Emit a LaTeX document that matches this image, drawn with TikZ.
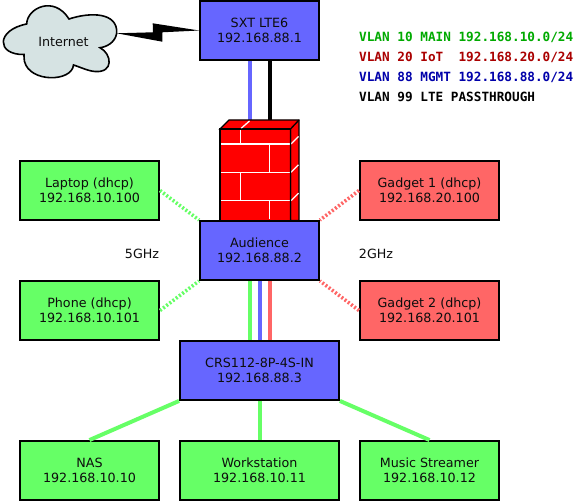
\documentclass[tikz,border=0pt]{standalone}
\usepackage{fontspec}
\setmainfont{DejaVu Sans}
\newfontfamily\vlanfont{DejaVu Sans Mono}[BoldFont={DejaVu Sans Mono Bold}]
\definecolor{boxblue}{HTML}{6666FF}
\definecolor{boxgreen}{HTML}{66FF66}
\definecolor{boxred}{HTML}{FF6666}
\definecolor{cloudfill}{HTML}{D6E3E3}
\definecolor{vgreen}{HTML}{00AA00}
\definecolor{vred}{HTML}{AA0000}
\definecolor{vblue}{HTML}{0000AA}
\definecolor{wallred}{HTML}{FF0000}
\tikzset{
  netbox/.style={draw=black,line width=1.9pt,inner sep=0pt,align=center,
    font=\fontsize{12.7}{15.5}\selectfont,text=black!95},
  bluebox/.style={netbox,fill=boxblue},
  greenbox/.style={netbox,fill=boxgreen,minimum width=139pt,minimum height=59pt},
  redbox/.style={netbox,fill=boxred,minimum width=139pt,minimum height=59pt},
  wired/.style={line width=4pt},
  wireless/.style={line width=3.6pt,dash pattern=on 2pt off 2pt},
  vlan/.style={anchor=west,inner sep=0pt,font=\fontsize{12.7}{15}\selectfont\vlanfont\bfseries},
  plain/.style={inner sep=0pt,font=\fontsize{12.7}{15}\selectfont,text=black!95},
  brick/.style={draw=white,line width=1.3pt},
  wall/.style={draw=black,line width=1.3pt,fill=wallred,line join=miter}
}
\begin{document}
\begin{tikzpicture}[x=1pt,y=-1pt]
\useasboundingbox (0,0) rectangle (575,502);
\fill[white] (0,0) rectangle (575,502);

% nodes
\node[bluebox,minimum width=119pt,minimum height=59pt] (sxt) at (259.5,30.5) {SXT LTE6\\192.168.88.1};
\node[bluebox,minimum width=119pt,minimum height=59pt] (aud) at (259.5,250.5) {Audience\\192.168.88.2};
\node[bluebox,minimum width=159pt,minimum height=59pt] (crs) at (259.5,370.5) {CRS112-8P-4S-IN\\192.168.88.3};
\node[greenbox] (laptop) at (89.5,190.5) {Laptop (dhcp)\\192.168.10.100};
\node[greenbox] (phone) at (89.5,310.5) {Phone (dhcp)\\192.168.10.101};
\node[redbox] (g1) at (429.5,190.5) {Gadget 1 (dhcp)\\192.168.20.100};
\node[redbox] (g2) at (429.5,310.5) {Gadget 2 (dhcp)\\192.168.20.101};
\node[greenbox] (nas) at (89.5,470.5) {NAS\\192.168.10.10};
\node[greenbox,minimum width=159pt] (ws) at (259.5,470.5) {Workstation\\192.168.10.11};
\node[greenbox] (music) at (429.5,470.5) {Music Streamer\\192.168.10.12};

% wired connectors
\coordinate (fwtop) at (259.5,120);
\draw[wired,boxblue] ([xshift=-10pt]sxt.south) -- ([xshift=-10pt]fwtop);
\draw[wired,black] ([xshift=10pt]sxt.south) -- ([xshift=10pt]fwtop);
\draw[wired,boxgreen] ([xshift=-10pt]aud.south) -- ([xshift=-10pt]crs.north);
\draw[wired,boxblue] (aud.south) -- (crs.north);
\draw[wired,boxred] ([xshift=10pt]aud.south) -- ([xshift=10pt]crs.north);
\draw[wired,boxgreen] (crs.south west) -- (nas.north);
\draw[wired,boxgreen] (crs.south) -- (ws.north);
\draw[wired,boxgreen] (crs.south east) -- (music.north);

% wireless connectors
\draw[wireless,boxgreen] (laptop.east) -- (aud.north west);
\draw[wireless,boxgreen] (phone.east) -- (aud.south west);
\draw[wireless,boxred] (g1.west) -- (aud.north east);
\draw[wireless,boxred] (g2.west) -- (aud.south east);

% firewall
\draw[wall] (220,129) -- (229,120) -- (299,120) -- (299,220.5) -- (290.5,220.5) -- (290.5,129) -- cycle;
\draw[wall] (220,129) rectangle (290.5,220.5);
\draw[brick] (221,144) -- (290,144) (221,172.3) -- (290,172.3) (221,200.7) -- (290,200.7);
\draw[brick] (240.7,130) -- (240.7,144) (269.3,144) -- (269.3,172.3) (240.7,172.3) -- (240.7,200.7) (269.3,200.7) -- (269.3,219.5);
\draw[brick] (241,128.5) -- (249.5,121);
\draw[brick] (291,144) -- (298.5,136.5) (291,172.3) -- (298.5,164.8) (291,200.7) -- (298.5,193.2);
\draw[black,line width=1.3pt] (220,129) -- (290.5,129) -- (290.5,220.5) (290.5,129) -- (299,120);
\node[bluebox,minimum width=119pt,minimum height=59pt] at (aud) {Audience\\192.168.88.2};

% cloud
\draw[black,line width=1.6pt,fill=cloudfill] (26.7,24)
  .. controls (27,8) and (54,-5) .. (69,19)
  .. controls (90,12) and (118,12) .. (116.7,33.3)
  .. controls (115,43) and (106,47) .. (100,47.7)
  .. controls (112,54) and (114,73) .. (95,71.5)
  .. controls (88,71) and (80,67) .. (73.5,65)
  .. controls (72,82) and (30,83) .. (24.5,61.5)
  .. controls (24,58) and (24,56) .. (24,54.5)
  .. controls (-4,55) and (-4,30) .. (26.7,24) -- cycle;
\node[inner sep=0pt,font=\fontsize{12.7}{15}\selectfont,text=black!95] (inet) at (63.5,41.5) {Internet};
\coordinate (cloudE) at (116.7,33.3);

% lightning bolt
\fill[black] (cloudE) -- (153,32.3) -- (152.7,23.3) -- (sxt.west) -- (162.3,32.3) -- (162.3,41.7) -- cycle;

% labels
\node[plain] (five) at (142,254) {5GHz};
\node[plain] (two) at (376,254) {2GHz};
\node[vlan,text=vgreen] (v10) at (359,37) {VLAN 10 MAIN 192.168.10.0/24};
\node[vlan,text=vred] (v20) at (359,57) {VLAN 20 IoT\ \ 192.168.20.0/24};
\node[vlan,text=vblue] (v88) at (359,77) {VLAN 88 MGMT 192.168.88.0/24};
\node[vlan,text=black] (v99) at (359,97) {VLAN 99 LTE PASSTHROUGH};
\end{tikzpicture}
\end{document}
